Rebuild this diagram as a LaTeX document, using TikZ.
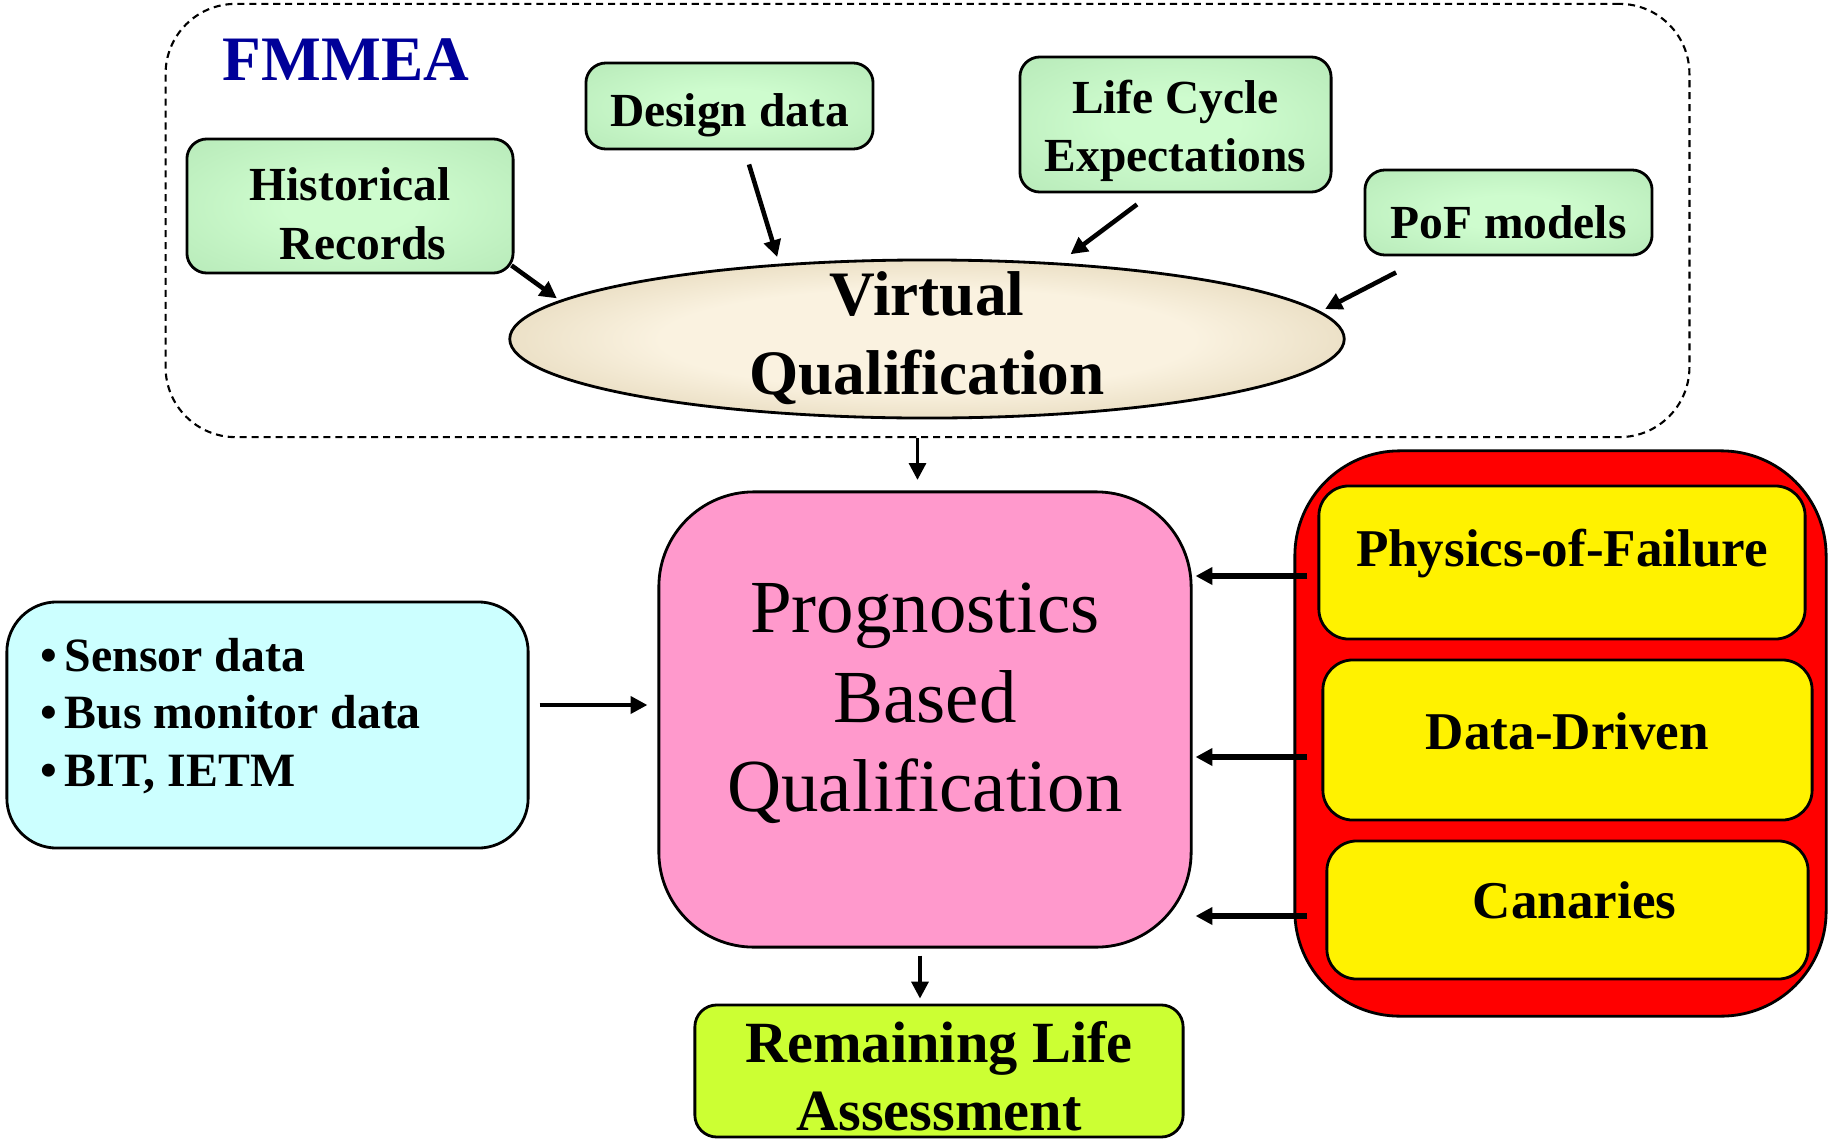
\documentclass[tikz,border=0pt]{standalone}
\usepackage{fontspec}
\setmainfont{Liberation Serif}
\usetikzlibrary{shapes.geometric, arrows.meta, calc}

\definecolor{titleblue}{RGB}{0,0,153}
\definecolor{mintlight}{RGB}{206,252,206}
\definecolor{mintdark}{RGB}{176,228,178}
\definecolor{creamlight}{RGB}{250,242,224}
\definecolor{creamdark}{RGB}{206,188,146}
\definecolor{sensorcyan}{RGB}{204,255,255}
\definecolor{pbqpink}{RGB}{255,153,204}
\definecolor{rlalime}{RGB}{204,255,51}

\pgfdeclareradialshading{mintglow}{\pgfpoint{0bp}{0bp}}{color(0bp)=(mintlight); color(10bp)=(mintlight); color(45bp)=(mintdark); color(50bp)=(mintdark)}
\pgfdeclareradialshading{creamglow}{\pgfpoint{0bp}{0bp}}{color(0bp)=(creamlight); color(16bp)=(creamlight); color(44bp)=(creamdark); color(50bp)=(creamdark)}

\begin{document}
\begin{tikzpicture}[
    x=0.01cm, y=-0.01cm,
    >={Triangle[length=4.8pt,width=4.8pt]},
    fmmeaframe/.style={draw, dash pattern=on 2pt off 1.4pt, line width=0.6pt,
        rounded corners=0.7cm, minimum width=15.23cm, minimum height=4.33cm},
    source/.style={draw, line width=0.8pt, rounded corners=0.2cm, shade, shading=mintglow,
        align=center, inner sep=0pt, font=\fontsize{13.5}{16.6}\selectfont\bfseries},
    vqellipse/.style={ellipse, draw, line width=0.8pt, shade, shading=creamglow,
        minimum width=8.34cm, minimum height=1.58cm, inner sep=0pt, align=center,
        text height=1.1cm, text depth=0cm, font=\fontsize{18}{22.3}\selectfont\bfseries},
    pbqbox/.style={draw, line width=0.8pt, fill=pbqpink, rounded corners=0.95cm,
        minimum width=5.32cm, minimum height=4.55cm, align=center, text depth=0.44cm,
        font=\fontsize{21.3}{25.4}\selectfont},
    sensorbox/.style={draw, line width=0.8pt, fill=sensorcyan, rounded corners=0.5cm,
        minimum width=5.21cm, minimum height=2.46cm},
    sensorlist/.style={align=left, inner sep=0pt, font=\fontsize{13.6}{16.3}\selectfont\bfseries},
    modelbox/.style={draw, line width=0.8pt, fill=red, rounded corners=1.05cm,
        minimum width=5.31cm, minimum height=5.65cm},
    method/.style={draw, line width=0.8pt, fill=yellow, rounded corners=0.3cm,
        inner sep=0pt, font=\fontsize{15.1}{17}\selectfont\bfseries},
    rlabox/.style={draw, line width=0.8pt, fill=rlalime, rounded corners=0.22cm,
        minimum width=4.88cm, minimum height=1.32cm, inner sep=0pt, align=center,
        font=\fontsize{16.6}{19.3}\selectfont\bfseries},
    feed/.style={->, line width=1.3pt},
    pull/.style={->, line width=1.6pt},
    flow/.style={->, line width=1pt}
]

\useasboundingbox (0,0) rectangle (1829,1142);

\node[fmmeaframe] (frame) at (927.5,220.5) {};
\node[text=titleblue, font=\fontsize{18}{22}\selectfont\bfseries] (title) at (346,60) {FMMEA};

\node[source, minimum width=3.26cm, minimum height=1.34cm, text height=1.07cm] (hist) at (350,206) {Historical\\\hspace*{0.26cm}Records};
\node[source, minimum width=2.87cm, minimum height=0.86cm, text height=0.52cm] (design) at (729.5,106) {Design data};
\node[source, minimum width=3.11cm, minimum height=1.35cm, text height=1.05cm] (life) at (1175.5,124.5) {Life Cycle\\Expectations};
\node[source, minimum width=2.87cm, minimum height=0.85cm, text height=0.52cm] (pof) at (1508.5,212.5) {PoF models};

\node[vqellipse] (vq) at (927,339) {Virtual\\Qualification};

\node[pbqbox] (pbq) at (925,719.5) {Prognostics\\Based\\Qualification};

\node[sensorbox] (sensors) at (267.5,725) {};
\node[sensorlist, anchor=west] (sensorlist) at ($(sensors.west)+(34,-9)$)
    {\textbullet\,Sensor data\\\textbullet\,Bus monitor data\\\textbullet\,BIT, IETM};

\node[modelbox] (models) at (1560.5,733.5) {};
\node[method, minimum width=4.86cm, minimum height=1.53cm, text depth=0.3cm] (phys) at (1562,562.5) {Physics-of-Failure};
\node[method, minimum width=4.89cm, minimum height=1.6cm, text depth=0.18cm] (dd) at (1567.5,740) {Data-Driven};
\node[method, minimum width=4.81cm, minimum height=1.38cm, text depth=0.2cm] (canary) at (1567.5,910) {\hspace*{0.14cm}Canaries};

\node[rlabox, text height=1.18cm, text depth=0cm] (rla) at (939,1071) {Remaining Life\\Assessment};

% inputs into the virtual qualification
\draw[feed, shorten >=1pt] ($(hist.south east)+(-3,-9)$) -- (vq.174);
\draw[feed, shorten >=2pt] ($(design.south)+(19.5,14)$) -- (vq.153);
\draw[feed, shorten >=4pt] ($(life.south)+(-38.5,11)$) -- (vq.30);
\draw[feed, shorten >=1.5pt] ($(pof.south)+(-112.5,16)$) -- (vq.4);

\coordinate (drop) at ($(frame.south)+(-10,0)$);
\draw[flow, shorten >=3pt] (drop) -- (drop |- pbq.north);

\draw[feed] ($(sensors.east)+(10,-20)$) -- ($(sensors.east -| pbq.west)+(-10,-20)$);

\draw[pull] ($(phys.west)+(-10,13.5)$) -- ($(phys.west -| pbq.east)+(3,13.5)$);
\draw[pull] ($(dd.west)+(-14,17)$) -- ($(dd.west -| pbq.east)+(3,17)$);
\draw[pull] ($(canary.west)+(-18,6)$) -- ($(canary.west -| pbq.east)+(3,6)$);

\draw[flow] ($(pbq.south)+(-5,7)$) -- ($(rla.north)+(-19,-5)$);

\end{tikzpicture}
\end{document}
